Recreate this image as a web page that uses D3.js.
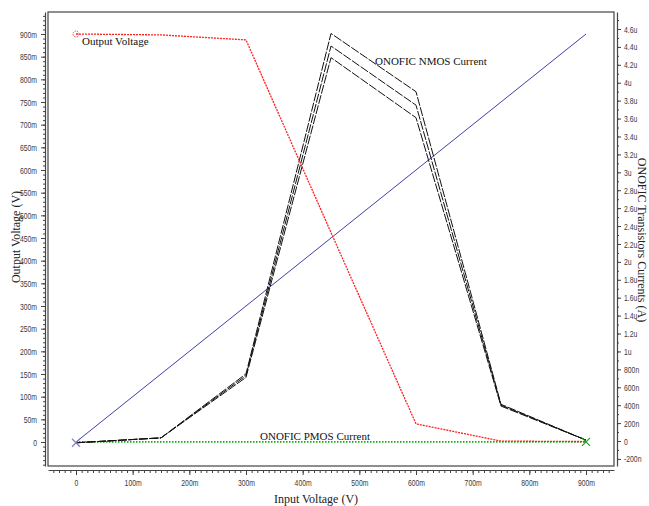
<!DOCTYPE html>
<html>
<head>
<meta charset="utf-8">
<script src="https://cdn.jsdelivr.net/npm/d3@7"></script>
<style>
  body { margin: 0; background: #fff; }
  .tick text { font-family: "Liberation Sans", Arial, sans-serif; font-size: 9.5px; fill: #3a3a3a; }
  .title { font-family: "Liberation Serif", "Times New Roman", serif; font-size: 12px; fill: #222; }
  .lbl { font-family: "Liberation Serif", "Times New Roman", serif; font-size: 11px; fill: #111; }
</style>
</head>
<body>
<script>
// canvas
let width = 649, height = 506

// sweep points (input voltage, V)
const vin = [0, 0.15, 0.3, 0.45, 0.6, 0.75, 0.9]
// output voltage (V)
const vout = [0.900, 0.898, 0.887, 0.462, 0.040, 0.002, 0.001]
// blue: input voltage itself (V)
const vinLine = [0, 0.9]
// three NMOS current curves (uA)
const nmosA = [-0.02, 0.035, 0.75, 4.55, 3.90, 0.41, 0.01]
const nmosB = [-0.02, 0.035, 0.73, 4.41, 3.75, 0.40, 0.01]
const nmosC = [-0.02, 0.035, 0.71, 4.28, 3.61, 0.39, 0.01]
// PMOS current (uA)
const pmos = [-0.01, -0.01, -0.01, -0.01, -0.01, -0.01, -0.01]

// tick labels
const xTicks = [0, 0.1, 0.2, 0.3, 0.4, 0.5, 0.6, 0.7, 0.8, 0.9]
const yLTicks = d3.range(0, 19).map(i => i * 0.05)
const yRTicks = d3.range(-1, 24).map(i => i * 0.2)

// frame of the plot area
let fLeft = 48, fRight = 614, fTop = 12, fBottom = 466
// narrow tick font
let squeeze = 0.72

// scales: calibrate on known ticks, then stretch to the frame
let x = d3.scaleLinear().domain([0, 0.9]).range([76, 586])
x.domain([x.invert(fLeft), x.invert(fRight)]).range([fLeft, fRight])

let yL = d3.scaleLinear().domain([0, 0.9]).range([442, 34])
yL.domain([yL.invert(fBottom), yL.invert(fTop)]).range([fBottom, fTop])

let yR = d3.scaleLinear().domain([0, 4.6]).range([441, 29])
yR.domain([yR.invert(fBottom), yR.invert(fTop)]).range([fBottom, fTop])

let svg = d3.select("body").append("svg")
    .attr("width", width)
    .attr("height", height)

// formatters
let fmtV = d => Math.abs(d) < 1e-9 ? "0" : Math.round(d * 1000) + "m"
let fmtI = d => {
    if (Math.abs(d) < 1e-9) return "0"
    if (Math.abs(d) < 1) return Math.round(d * 1000) + "n"
    return (+d.toFixed(1)) + "u"
}

// plot frame
svg.append("rect")
    .attr("x", fLeft).attr("y", fTop)
    .attr("width", fRight - fLeft).attr("height", fBottom - fTop)
    .attr("fill", "none")
    .attr("stroke", "#444")
    .attr("stroke-width", 1.2)

// minor ticks helper
function minor(lo, hi, step) {
    return d3.range(Math.round(lo / step), Math.round(hi / step) + 1).map(i => i * step)
}

// left axis
let gL = svg.append("g").attr("transform", "translate(45,0)")
gL.call(d3.axisLeft(yL).tickValues(minor(-0.05, 0.95, 0.01).filter(v => v >= yL.domain()[0] && v <= yL.domain()[1]))
    .tickSize(2).tickSizeOuter(0).tickFormat(""))
gL.append("g").call(d3.axisLeft(yL).tickValues(yLTicks).tickSize(4).tickSizeOuter(0).tickFormat(fmtV))
    .call(g => g.select(".domain").remove())
    .call(g => g.selectAll(".tick text").attr("x", -8 / squeeze).attr("transform", `scale(${squeeze},1)`))

// bottom axis
let gB = svg.append("g").attr("transform", "translate(0,470)")
gB.call(d3.axisBottom(x).tickValues(minor(-0.05, 0.95, 0.01).filter(v => v >= x.domain()[0] && v <= x.domain()[1]))
    .tickSize(3).tickSizeOuter(0).tickFormat(""))
gB.append("g").call(d3.axisBottom(x).tickValues(xTicks).tickSize(5).tickSizeOuter(0).tickFormat(fmtV))
    .call(g => g.select(".domain").remove())
    .call(g => g.selectAll(".tick text").attr("y", 9).attr("transform", `scale(${squeeze},1)`))

// right axis
let gR = svg.append("g").attr("transform", "translate(617,0)")
gR.call(d3.axisRight(yR).tickValues(minor(-0.3, 4.8, 0.1).filter(v => v >= yR.domain()[0] && v <= yR.domain()[1]))
    .tickSize(2).tickSizeOuter(0).tickFormat(""))
gR.append("g").call(d3.axisRight(yR).tickValues(yRTicks).tickSize(4).tickSizeOuter(0).tickFormat(fmtI))
    .call(g => g.select(".domain").remove())
    .call(g => g.selectAll(".tick text").attr("x", 7 / squeeze).attr("transform", `scale(${squeeze},1)`))

svg.selectAll(".domain").attr("stroke", "#444").attr("stroke-width", 1.2)
svg.selectAll(".tick line").attr("stroke", "#444")

// axis titles
svg.append("text").attr("class", "title")
    .attr("transform", "translate(20,237) rotate(-90)")
    .attr("text-anchor", "middle")
    .text("Output Voltage (V)")

svg.append("text").attr("class", "title")
    .attr("transform", "translate(638,240) rotate(90)")
    .attr("text-anchor", "middle")
    .text("ONOFIC Transistors Currents (A)")

svg.append("text").attr("class", "title")
    .attr("x", 316).attr("y", 503)
    .attr("text-anchor", "middle")
    .text("Input Voltage (V)")

// line generators
let lineL = d3.line().x((d, i) => x(vin[i])).y(d => yL(d))
let lineR = d3.line().x((d, i) => x(vin[i])).y(d => yR(d))

let plot = svg.append("g")

// blue: input voltage
plot.append("path")
    .attr("d", d3.line().x(d => x(d)).y(d => yL(d))(vinLine))
    .attr("fill", "none")
    .attr("stroke", "#2a2aa0")
    .attr("stroke-width", 0.9)

// green: PMOS current
plot.append("path")
    .attr("d", lineR(pmos))
    .attr("fill", "none")
    .attr("stroke", "#10b010")
    .attr("stroke-width", 1.6)
    .attr("stroke-dasharray", "1.5,1.5")

// black: NMOS currents
for (let s of [nmosA, nmosB, nmosC]) {
    plot.append("path")
        .attr("d", lineR(s))
        .attr("fill", "none")
        .attr("stroke", "#111")
        .attr("stroke-width", 1)
        .attr("stroke-dasharray", "9,1.5")
}

// red: output voltage
plot.append("path")
    .attr("d", lineL(vout))
    .attr("fill", "none")
    .attr("stroke", "#ff2020")
    .attr("stroke-width", 1.3)
    .attr("stroke-dasharray", "2,1")

// markers
plot.append("circle")
    .attr("cx", x(vin[0])).attr("cy", yL(vout[0])).attr("r", 3)
    .attr("fill", "none").attr("stroke", "#ff4040").attr("stroke-dasharray", "1.5,1")

function cross(cx, cy, col) {
    plot.append("path")
        .attr("d", `M${cx - 4},${cy - 4}L${cx + 4},${cy + 4}M${cx - 4},${cy + 4}L${cx + 4},${cy - 4}`)
        .attr("stroke", col).attr("stroke-width", 1.2)
}
cross(x(vin[0]), yR(nmosA[0]), "#8080c0")
cross(x(vin[6]), yR(pmos[6]), "#20a020")

// labels
plot.append("text").attr("class", "lbl").attr("x", 82).attr("y", 45).text("Output Voltage")
plot.append("text").attr("class", "lbl").attr("x", 375).attr("y", 65).text("ONOFIC NMOS Current")
plot.append("text").attr("class", "lbl").attr("x", 260).attr("y", 440).text("ONOFIC PMOS Current")
</script>
</body>
</html>
